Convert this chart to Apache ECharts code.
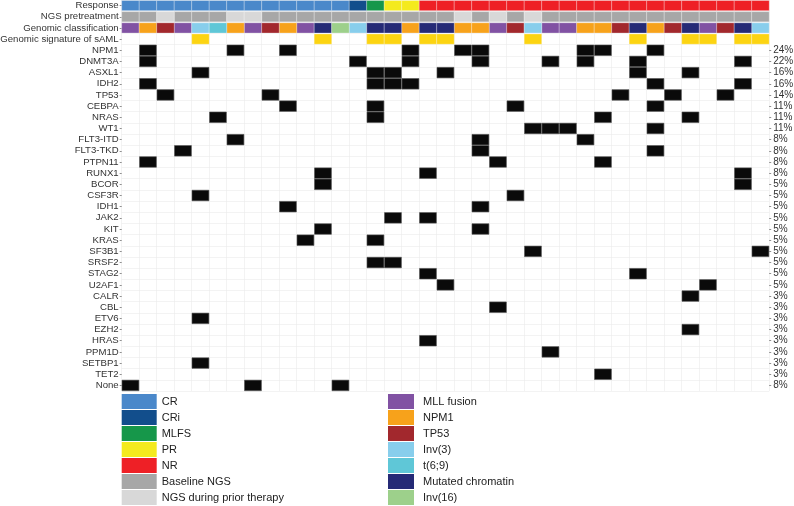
<!DOCTYPE html>
<html>
<head>
<meta charset="utf-8">
<script src="https://cdn.jsdelivr.net/npm/echarts@6/dist/echarts.min.js"></script>
<style>
html,body{margin:0;padding:0;background:#fff;}
#chart{width:794px;height:506px;}
</style>
</head>
<body>
<div id="chart"></div>
<script>
// ---------------- DATA ----------------
const patients = ['1','2','3','4','5','6','7','8','9','10','11','12','13','14','15','16','17','18','19','20',
  '21','22','23','24','25','26','27','28','29','30','31','32','33','34','35','36','37'];

const annotationRows = ['Response', 'NGS pretreatment', 'Genomic classification', 'Genomic signature of sAML'];

const genes = ['NPM1','DNMT3A','ASXL1','IDH2','TP53','CEBPA','NRAS','WT1','FLT3-ITD','FLT3-TKD','PTPN11',
  'RUNX1','BCOR','CSF3R','IDH1','JAK2','KIT','KRAS','SF3B1','SRSF2','STAG2','U2AF1','CALR','CBL','ETV6',
  'EZH2','HRAS','PPM1D','SETBP1','TET2','None'];

const genePct = ['24%','22%','16%','16%','14%','11%','11%','11%','8%','8%','8%','8%','5%','5%','5%','5%',
  '5%','5%','5%','5%','5%','5%','3%','3%','3%','3%','3%','3%','3%','3%','8%'];

// Response per patient
const responseStatus = ['CR','CR','CR','CR','CR','CR','CR','CR','CR','CR','CR','CR','CR','CRi','MLFS','PR','PR',
  'NR','NR','NR','NR','NR','NR','NR','NR','NR','NR','NR','NR','NR','NR','NR','NR','NR','NR','NR','NR'];

// NGS pretreatment timing per patient (B = baseline, T = during prior therapy)
const ngsTiming = ['B','B','T','B','B','B','T','T','B','B','B','B','B','B','B','B','B','B','B','T',
  'B','T','B','T','B','B','B','B','B','B','B','B','B','B','B','B','B'];

// Genomic classification per patient
const genomicClass = ['MLL fusion','NPM1','TP53','MLL fusion','Inv(3)','t(6;9)','NPM1','MLL fusion','TP53','NPM1',
  'MLL fusion','Mutated chromatin','Inv(16)','Inv(3)','Mutated chromatin','Mutated chromatin','NPM1',
  'Mutated chromatin','Mutated chromatin','NPM1','NPM1','MLL fusion','TP53','Inv(3)','MLL fusion','MLL fusion',
  'NPM1','NPM1','TP53','Mutated chromatin','NPM1','TP53','Mutated chromatin','MLL fusion','TP53',
  'Mutated chromatin','Inv(3)'];

// Patients with a genomic signature of sAML
const samlPatients = [5,12,15,16,18,19,24,30,33,34,36,37];

// Mutated patients per gene (same order as genes)
const mutatedPatients = [
  [2,7,10,17,20,21,27,28,31],   // NPM1
  [2,14,17,21,25,27,30,36],     // DNMT3A
  [5,15,16,19,30,33],           // ASXL1
  [2,15,16,17,31,36],           // IDH2
  [3,9,29,32,35],               // TP53
  [10,15,23,31],                // CEBPA
  [6,15,28,33],                 // NRAS
  [24,25,26,31],                // WT1
  [7,21,27],                    // FLT3-ITD
  [4,21,31],                    // FLT3-TKD
  [2,22,28],                    // PTPN11
  [12,18,36],                   // RUNX1
  [12,36],                      // BCOR
  [5,23],                       // CSF3R
  [10,21],                      // IDH1
  [16,18],                      // JAK2
  [12,21],                      // KIT
  [11,15],                      // KRAS
  [24,37],                      // SF3B1
  [15,16],                      // SRSF2
  [18,30],                      // STAG2
  [19,34],                      // U2AF1
  [33],                         // CALR
  [22],                         // CBL
  [5],                          // ETV6
  [33],                         // EZH2
  [18],                         // HRAS
  [25],                         // PPM1D
  [5],                          // SETBP1
  [28],                         // TET2
  [1,8,13]                      // None
];

const responseLegend = ['CR','CRi','MLFS','PR','NR','Baseline NGS','NGS during prior therapy'];
const classLegend = ['MLL fusion','NPM1','TP53','Inv(3)','t(6;9)','Mutated chromatin','Inv(16)'];

// ---------------- STYLE ----------------
const colors = {
  'CR':'#4A88CA','CRi':'#124E8C','MLFS':'#16974A','PR':'#F4EA1E','NR':'#EE2026',
  'Baseline NGS':'#A7A7A7','NGS during prior therapy':'#D8D8D8',
  'MLL fusion':'#8152A3','NPM1':'#F7A21B','TP53':'#A2282D','Inv(3)':'#88CEEC','t(6;9)':'#5FC7D7',
  'Mutated chromatin':'#252A76','Inv(16)':'#9DD08B'
};
const ngsName = {B:'Baseline NGS', T:'NGS during prior therapy'};
const FONT = '"Liberation Sans", Arial, Helvetica, sans-serif';

// ---------------- BUILD ----------------
const yCats = annotationRows.concat(genes);
const annoData = {};
function addAnno(cat, p, row) { (annoData[cat] = annoData[cat] || []).push([p, row]); }
patients.forEach((p, i) => {
  addAnno(responseStatus[i], p, 'Response');
  addAnno(ngsName[ngsTiming[i]], p, 'NGS pretreatment');
  addAnno(genomicClass[i], p, 'Genomic classification');
});

function annoCell(params, api) {
  const c = api.coord([api.value(0), api.value(1)]);
  const s = api.size([1, 1]);
  return {
    type: 'rect',
    shape: { x: c[0] - s[0] / 2, y: c[1] - s[1] / 2 + 0.5, width: s[0], height: s[1] - 1 },
    style: { fill: api.visual('color'), stroke: 'rgba(255,255,255,0.45)', lineWidth: 0.6 }
  };
}
function mutCell(params, api) {
  const c = api.coord([api.value(0), api.value(1)]);
  const s = api.size([1, 1]);
  return {
    type: 'rect',
    shape: { x: c[0] - s[0] / 2 + 0.3, y: c[1] - s[1] / 2 + 0.3, width: s[0] - 0.6, height: s[1] - 0.6 },
    style: { fill: '#0a0a0a', stroke: '#555', lineWidth: 0.6 }
  };
}

const series = [];
responseLegend.concat(classLegend).forEach(name => {
  series.push({
    type: 'custom', name: name, renderItem: annoCell,
    itemStyle: { color: colors[name] },
    encode: { x: 0, y: 1 },
    data: annoData[name] || []
  });
});
series.push({
  type: 'custom', name: 'sAML signature', renderItem: annoCell,
  itemStyle: { color: '#FCD412' }, encode: { x: 0, y: 1 },
  data: samlPatients.map(p => [String(p), 'Genomic signature of sAML'])
});
const mutData = [];
genes.forEach((g, gi) => mutatedPatients[gi].forEach(p => mutData.push([String(p), g])));
series.push({
  type: 'custom', name: 'Mutation', renderItem: mutCell,
  itemStyle: { color: '#0a0a0a' }, encode: { x: 0, y: 1 }, data: mutData
});

const legendBase = {
  orient: 'vertical', top: 394, itemGap: 1, itemHeight: 15, icon: 'rect', padding: 0,
  selectedMode: false, itemStyle: { borderWidth: 0 },
  textStyle: { fontSize: 11, color: '#222', fontFamily: FONT }
};

const option = {
  animation: false,
  backgroundColor: '#ffffff',
  textStyle: { fontFamily: FONT },
  grid: { left: 121.7, top: 0, width: 647.5, height: 391, containLabel: false, outerBoundsMode: 'none' },
  xAxis: {
    type: 'category', data: patients,
    axisLine: { show: false }, axisTick: { show: false }, axisLabel: { show: false },
    splitLine: { show: true, lineStyle: { color: '#ebebeb', width: 0.6 } }
  },
  yAxis: [
    {
      type: 'category', data: yCats, inverse: true,
      axisLine: { show: false },
      axisTick: { show: true, length: 2, alignWithLabel: true, lineStyle: { color: '#444', width: 0.6 } },
      axisLabel: { fontSize: 9.6, color: '#333', margin: 3, fontFamily: FONT, interval: 0 },
      splitLine: { show: true, lineStyle: { color: '#ebebeb', width: 0.6 } }
    },
    {
      type: 'category', data: yCats, inverse: true, position: 'right',
      axisLine: { show: false },
      axisTick: { show: true, length: 2, alignWithLabel: true, interval: (i) => i >= annotationRows.length,
        lineStyle: { color: '#444', width: 0.6 } },
      axisLabel: { fontSize: 10, color: '#333', margin: 4, fontFamily: FONT, interval: 0,
        formatter: (v, i) => i >= annotationRows.length ? genePct[i - annotationRows.length] : '' },
      splitLine: { show: false }
    }
  ],
  legend: [
    Object.assign({}, legendBase, { left: 121.7, itemWidth: 35, data: responseLegend }),
    Object.assign({}, legendBase, { left: 388, itemWidth: 26, data: classLegend,
      textStyle: { fontSize: 11, color: '#222', fontFamily: FONT, padding: [0, 0, 0, 4] } })
  ],
  series: series
};

const chart = echarts.init(document.getElementById('chart'), null, { renderer: 'canvas' });
chart.setOption(option);
</script>
</body>
</html>
